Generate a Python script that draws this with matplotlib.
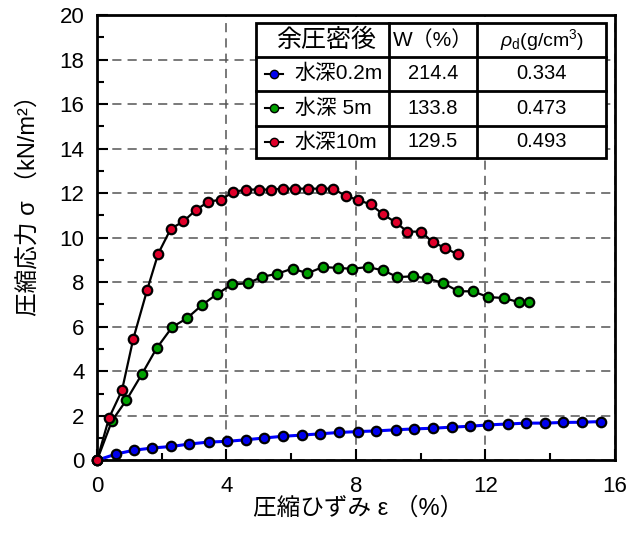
import matplotlib
matplotlib.use("Agg")
import matplotlib.pyplot as plt
from matplotlib.ticker import MultipleLocator
from matplotlib.patches import Rectangle

plt.rcParams['font.family'] = ['Liberation Sans', 'Noto Sans CJK JP', 'DejaVu Sans']
plt.rcParams['mathtext.fontset'] = 'custom'
plt.rcParams['mathtext.rm'] = 'Liberation Sans'
plt.rcParams['mathtext.it'] = 'Liberation Sans:italic'

# data
x_02 = [0, 0.58, 1.13, 1.69, 2.29, 2.85, 3.45, 4.01, 4.59, 5.15, 5.75, 6.32, 6.90, 7.47, 8.05,
        8.63, 9.23, 9.80, 10.37, 10.97, 11.53, 12.09, 12.69, 13.26, 13.83, 14.40, 14.99, 15.57]
y_02 = [0, 0.28, 0.45, 0.55, 0.62, 0.73, 0.82, 0.85, 0.92, 1.00, 1.08, 1.13, 1.19, 1.25, 1.29,
        1.32, 1.37, 1.41, 1.44, 1.49, 1.53, 1.59, 1.63, 1.67, 1.67, 1.70, 1.71, 1.74]

x_5 = [0, 0.46, 0.91, 1.39, 1.84, 2.32, 2.78, 3.25, 3.70, 4.17, 4.65, 5.11, 5.57, 6.04, 6.50,
       6.98, 7.44, 7.89, 8.36, 8.84, 9.28, 9.77, 10.21, 10.70, 11.16, 11.61, 12.09, 12.56, 13.04, 13.36]
y_5 = [0, 1.77, 2.71, 3.88, 5.03, 5.98, 6.38, 6.98, 7.46, 7.90, 7.95, 8.24, 8.38, 8.61, 8.40,
       8.68, 8.64, 8.60, 8.68, 8.53, 8.23, 8.26, 8.17, 7.96, 7.59, 7.59, 7.33, 7.29, 7.10, 7.10]

x_10 = [0, 0.37, 0.77, 1.12, 1.55, 1.89, 2.28, 2.67, 3.06, 3.44, 3.83, 4.20, 4.59, 4.99, 5.36,
        5.75, 6.13, 6.52, 6.92, 7.30, 7.68, 8.06, 8.45, 8.84, 9.23, 9.59, 10.01, 10.37, 10.75, 11.14]
y_10 = [0, 1.90, 3.14, 5.46, 7.66, 9.28, 10.40, 10.73, 11.25, 11.61, 11.71, 12.04, 12.16, 12.16, 12.16,
        12.20, 12.20, 12.20, 12.20, 12.20, 11.87, 11.70, 11.49, 11.05, 10.68, 10.27, 10.27, 9.80, 9.54, 9.25]

series_names = ['水深0.2m', '水深 5m', '水深10m']
w_values = ['214.4', '133.8', '129.5']
rho_values = ['0.334', '0.473', '0.493']
marker_colors = ['#0000ee', '#00a000', '#e0002a']
line_colors = ['#0000ff', 'black', 'black']

fig = plt.figure(figsize=(6.44, 5.33), dpi=100)
ax = fig.add_axes([0.1507, 0.1364, 0.804, 0.8355])

data = [(x_02, y_02), (x_5, y_5), (x_10, y_10)]
for (xs, ys), mc, lc in zip(data, marker_colors, line_colors):
    ax.plot(xs, ys, '-', color=lc, lw=2.2 if lc != 'black' else 1.6,
            marker='o', ms=6.8, mfc=mc, mec='black', mew=1.6, zorder=3, clip_on=False)

ax.set_xlim(0, 16)
ax.set_ylim(0, 20)
ax.xaxis.set_major_locator(MultipleLocator(4))
ax.xaxis.set_minor_locator(MultipleLocator(2))
ax.yaxis.set_major_locator(MultipleLocator(2))
ax.yaxis.set_minor_locator(MultipleLocator(1))
ax.tick_params(which='both', direction='in', width=1.5, labelsize=16, top=False, right=False)
ax.tick_params(which='major', length=8)
ax.tick_params(which='minor', length=5)
ax.tick_params(axis='x', which='major', pad=11)
ax.tick_params(axis='y', which='major', pad=9)
for s in ax.spines.values():
    s.set_linewidth(2)

ax.grid(True, which='major', color='#555555', linestyle=(0, (6, 4)), linewidth=1.1)

xl = ax.set_xlabel('圧縮ひずみ ε （%）', fontsize=17)
ax.xaxis.set_label_coords(0.505, -0.109)
xl.set_va('center')
yl = ax.set_ylabel('圧縮応力 σ （kN/m²）', fontsize=17)
ax.yaxis.set_label_coords(-0.133, 0.585)
yl.set_va('center')

# table legend
tr = ax.transAxes
cols = [0.307, 0.564, 0.734, 0.983]
rows = [0.9825, 0.906, 0.830, 0.751, 0.679]
ax.add_patch(Rectangle((cols[0], rows[-1]), cols[-1] - cols[0], rows[0] - rows[-1],
                       transform=tr, facecolor='white', edgecolor='black', lw=2, zorder=5))
for c in cols[1:-1]:
    ax.plot([c, c], [rows[-1], rows[0]], transform=tr, color='black', lw=2, zorder=6)
for r in rows[1:-1]:
    ax.plot([cols[0], cols[-1]], [r, r], transform=tr, color='black', lw=2, zorder=6)

hy = (rows[0] + rows[1]) / 2
ax.text((cols[0] + cols[1]) / 2 + 0.006, hy, '余圧密後', transform=tr, ha='center', va='center',
        fontsize=18, zorder=7)
ax.text((cols[1] + cols[2]) / 2, hy, 'W（%）', transform=tr, ha='center', va='center',
        fontsize=15, zorder=7)
ax.text((cols[2] + cols[3]) / 2, hy, r'$\rho_{\rm d}$(g/cm$^3$)', transform=tr, ha='center',
        va='center', fontsize=14, zorder=7)
for i in range(3):
    ry = (rows[i + 1] + rows[i + 2]) / 2
    ax.plot([cols[0] + 0.017, cols[0] + 0.052], [ry, ry], transform=tr, color='black', lw=1.5,
            zorder=7)
    ax.plot([cols[0] + 0.0345], [ry], transform=tr, marker='o', ms=6, mfc=marker_colors[i],
            mec='black', mew=1.0, zorder=8)
    ax.text(cols[0] + 0.075, ry, series_names[i], transform=tr, ha='left', va='center',
            fontsize=15, zorder=7)
    ax.text((cols[1] + cols[2]) / 2, ry, w_values[i], transform=tr, ha='center', va='center',
            fontsize=14.5, zorder=7)
    ax.text((cols[2] + cols[3]) / 2, ry, rho_values[i], transform=tr, ha='center', va='center',
            fontsize=14.5, zorder=7)

fig.savefig('out.png', dpi=100)
